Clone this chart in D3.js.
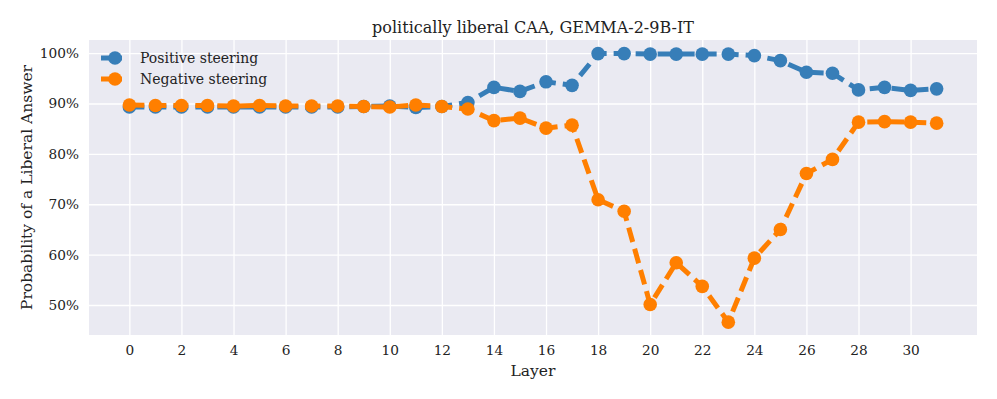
<!DOCTYPE html>
<html>
<head>
<meta charset="utf-8">
<script src="https://cdn.jsdelivr.net/npm/d3@7"></script>
<style>
  body { margin: 0; background: white; }
  text { font-family: "DejaVu Serif", serif; fill: #222; }
</style>
</head>
<body>
<svg id="chart" width="997" height="399"></svg>
<script>
var layers = d3.range(32)
var positive = [89.3, 89.3, 89.3, 89.3, 89.3, 89.3, 89.3, 89.3, 89.3, 89.4, 89.5, 89.2, 89.4, 90.2,
  93.2, 92.4, 94.3, 93.6, 99.9, 99.9, 99.8, 99.8, 99.8, 99.8, 99.5, 98.5, 96.2, 96.0,
  92.7, 93.2, 92.6, 92.9]
var negative = [89.7, 89.6, 89.6, 89.6, 89.5, 89.6, 89.5, 89.5, 89.5, 89.4, 89.3, 89.7, 89.4, 88.9,
  86.6, 87.1, 85.1, 85.7, 70.9, 68.6, 50.1, 58.4, 53.7, 46.6, 59.3, 65.0, 76.1, 78.9,
  86.3, 86.4, 86.3, 86.1]
var xTicks = d3.range(0, 31, 2)
var yTicks = [50, 60, 70, 80, 90, 100]

var series = [
  { name: 'Positive steering', values: positive, color: '#377eb8' },
  { name: 'Negative steering', values: negative, color: '#ff7f00' }
]

var svg = d3.select('#chart')
// plot box (named so as not to clash with window.top)
var plotL = 89, plotR = 977, plotT = 40, plotB = 335

var x = d3.scaleLinear().domain([-1.55, 32.55]).range([plotL, plotR])
var y = d3.scaleLinear().domain([44.05, 102.6]).range([plotB, plotT])

// background + grid
svg.append('rect')
  .attr('x', plotL).attr('y', plotT)
  .attr('width', plotR - plotL).attr('height', plotB - plotT)
  .attr('fill', '#eaeaf2')

var xAxis = svg.append('g')
  .attr('transform', `translate(0,${plotB})`)
  .call(d3.axisBottom(x).tickValues(xTicks).tickSize(-(plotB - plotT)).tickPadding(10))
var yAxis = svg.append('g')
  .attr('transform', `translate(${plotL},0)`)
  .call(d3.axisLeft(y).tickValues(yTicks).tickFormat(d => d + '%').tickSize(-(plotR - plotL)).tickPadding(10))

;[xAxis, yAxis].forEach(ax => {
  ax.select('.domain').remove()
  ax.selectAll('.tick line').attr('stroke', 'white').attr('stroke-width', 1.3)
  ax.selectAll('.tick text').attr('font-size', 13.7).attr('font-family', 'DejaVu Serif').attr('fill', '#222')
})

// lines then markers for each series
var line = d3.line().x((d, i) => x(layers[i])).y(d => y(d))

series.forEach(s => {
  svg.append('path')
    .datum(s.values)
    .attr('d', line)
    .attr('fill', 'none')
    .attr('stroke', s.color)
    .attr('stroke-width', 5)
    .attr('stroke-dasharray', '15,7')

  svg.selectAll(null)
    .data(s.values)
    .enter()
    .append('circle')
    .attr('cx', (d, i) => x(layers[i]))
    .attr('cy', d => y(d))
    .attr('r', 6.8)
    .attr('fill', s.color)
})

// legend
series.forEach((s, i) => {
  var ly = 58 + i * 21
  svg.append('line')
    .attr('x1', 101).attr('x2', 122).attr('y1', ly).attr('y2', ly)
    .attr('stroke', s.color).attr('stroke-width', 5)
  svg.append('circle')
    .attr('cx', 115).attr('cy', ly).attr('r', 6.8).attr('fill', s.color)
  svg.append('text')
    .attr('x', 140).attr('y', ly)
    .attr('dominant-baseline', 'central')
    .attr('font-size', 14)
    .text(s.name)
})

// title and axis labels
svg.append('text')
  .attr('x', (plotL + plotR) / 2).attr('y', 27)
  .attr('text-anchor', 'middle').attr('dominant-baseline', 'central')
  .attr('font-size', 16)
  .text('politically liberal CAA, GEMMA-2-9B-IT')

svg.append('text')
  .attr('x', (plotL + plotR) / 2).attr('y', 371)
  .attr('text-anchor', 'middle').attr('dominant-baseline', 'central')
  .attr('font-size', 15.5)
  .text('Layer')

svg.append('text')
  .attr('transform', `translate(27,${(plotT + plotB) / 2}) rotate(-90)`)
  .attr('text-anchor', 'middle').attr('dominant-baseline', 'central')
  .attr('font-size', 15.5)
  .text('Probability of a Liberal Answer')
</script>
</body>
</html>
